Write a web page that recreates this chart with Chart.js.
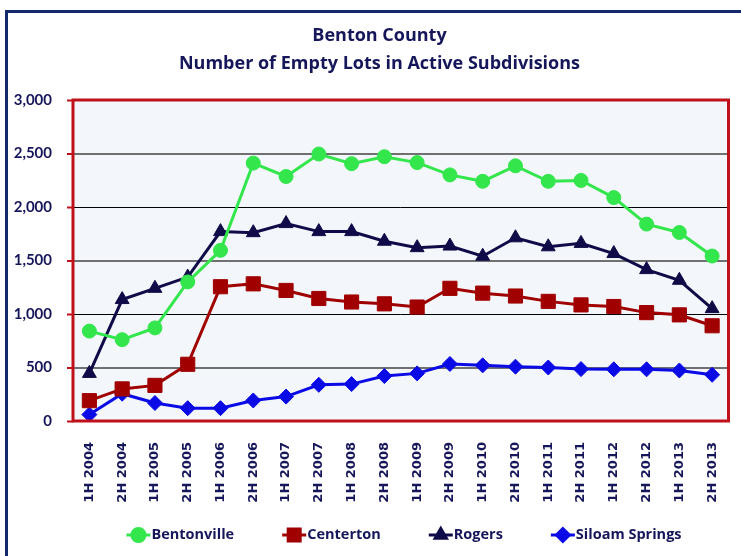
<!DOCTYPE html>
<html lang="en">
<head>
    <meta charset="UTF-8">
    <title>Benton County - Empty Lots</title>
    <script src="https://cdn.jsdelivr.net/npm/chart.js"></script>
    <style>
        html, body { margin: 0; padding: 0; background: #ffffff; }
        #wrap { position: relative; width: 741px; height: 556px; }
    </style>
</head>
<body>
<div id="wrap">
    <canvas id="lotsChart" width="741" height="556"></canvas>
</div>

<script>
// Dados
const periods = [
    '1H 2004', '2H 2004', '1H 2005', '2H 2005', '1H 2006', '2H 2006', '1H 2007', '2H 2007',
    '1H 2008', '2H 2008', '1H 2009', '2H 2009', '1H 2010', '2H 2010', '1H 2011', '2H 2011',
    '1H 2012', '2H 2012', '1H 2013', '2H 2013'
];
const bentonville = [840, 760, 870, 1300, 1595, 2410, 2285, 2495, 2405, 2470, 2415, 2300, 2240, 2385, 2240, 2248, 2088, 1840, 1762, 1542];
const centerton = [190, 300, 333, 530, 1255, 1282, 1220, 1145, 1112, 1095, 1065, 1240, 1195, 1168, 1118, 1085, 1070, 1013, 992, 890];
const rogers = [445, 1135, 1240, 1345, 1770, 1760, 1845, 1770, 1770, 1680, 1620, 1635, 1540, 1712, 1628, 1660, 1565, 1415, 1315, 1050];
const siloamSprings = [60, 255, 168, 120, 120, 192, 228, 338, 345, 420, 445, 533, 520, 508, 500, 485, 483, 483, 472, 432];
const yTicks = [0, 500, 1000, 1500, 2000, 2500, 3000];

const navyText = '#16165a';
const font = 'Lato, "Open Sans", sans-serif';
const wideFont = '"Open Sans", Lato, sans-serif';

const series = [
    { label: 'Bentonville', data: bentonville, color: '#33e64c', style: 'circle', radius: 7 },
    { label: 'Centerton', data: centerton, color: '#a00000', style: 'rect', radius: 10 },
    { label: 'Rogers', data: rogers, color: '#0e0b48', style: 'triangle', radius: 8 },
    { label: 'Siloam Springs', data: siloamSprings, color: '#0a0ae6', style: 'rectRot', radius: 7.5 }
];

// fundo da área do gráfico + moldura vermelha
const plotFrame = {
    id: 'plotFrame',
    afterLayout(chart) {
        // título um pouco à direita, como no original
        if (chart.titleBlock) {
            chart.titleBlock.left += 14;
            chart.titleBlock.right += 14;
        }
    },
    beforeDraw(chart) {
        const { ctx, chartArea: a } = chart;
        ctx.save();
        ctx.fillStyle = '#ffffff';
        ctx.fillRect(0, 0, chart.width, chart.height);
        // moldura externa azul-marinho
        ctx.strokeStyle = '#12296b';
        ctx.lineWidth = 3;
        ctx.beginPath();
        ctx.moveTo(6.5, chart.height + 5);
        ctx.lineTo(6.5, 11.5);
        ctx.lineTo(chart.width + 5, 11.5);
        ctx.stroke();
        ctx.fillStyle = '#f3f7fb';
        ctx.fillRect(a.left, a.top, a.right - a.left, a.bottom - a.top);
        ctx.restore();
    },
    afterDatasetsDraw(chart) {
        const { ctx, chartArea: a } = chart;
        ctx.save();
        ctx.strokeStyle = '#c0101a';
        ctx.lineWidth = 3;
        ctx.strokeRect(a.left, a.top, a.right - a.left, a.bottom - a.top);
        ctx.restore();
    }
};

// legenda com linha + marcador
const lineLegend = {
    id: 'lineLegend',
    afterDraw(chart) {
        const { ctx } = chart;
        ctx.save();
        ctx.font = 'bold 14.5px ' + wideFont;
        ctx.textBaseline = 'middle';
        const iconW = 24, gapText = 1, gapItem = 48, y = 535;
        const widths = series.map(s => iconW + gapText + ctx.measureText(s.label).width);
        const total = widths.reduce((a, b) => a + b, 0) + gapItem * (series.length - 1);
        let x = 404 - total / 2;
        series.forEach((s, i) => {
            ctx.strokeStyle = s.color;
            ctx.lineWidth = 3;
            ctx.beginPath();
            ctx.moveTo(x, y);
            ctx.lineTo(x + iconW, y);
            ctx.stroke();
            ctx.fillStyle = s.color;
            Chart.helpers.drawPoint(ctx, {
                pointStyle: s.style, radius: s.style === 'rect' ? 8.5 : 6.5, borderWidth: 1, rotation: 0
            }, x + iconW / 2, y);
            ctx.fill();
            ctx.fillStyle = navyText;
            ctx.textAlign = 'left';
            ctx.fillText(s.label, x + iconW + gapText, y);
            x += widths[i] + gapItem;
        });
        ctx.restore();
    }
};

const ctx = document.getElementById('lotsChart').getContext('2d');
new Chart(ctx, {
    type: 'line',
    data: {
        labels: periods,
        datasets: series.map(s => ({
            label: s.label,
            data: s.data,
            borderColor: s.color,
            backgroundColor: s.color,
            borderWidth: 3,
            pointStyle: s.style,
            pointRadius: s.radius,
            pointBorderWidth: 1,
            pointBorderColor: s.color,
            pointBackgroundColor: s.color,
            tension: 0
        }))
    },
    options: {
        responsive: false,
        animation: false,
        layout: { padding: { left: 0, right: 10, top: 0, bottom: 45 } },
        scales: {
            x: {
                offset: true,
                grid: { display: false },
                border: { display: false },
                ticks: {
                    color: navyText,
                    font: { family: '"DejaVu Sans", sans-serif', size: 13, weight: 'bold' },
                    minRotation: 90,
                    maxRotation: 90,
                    padding: 13,
                    autoSkip: false
                },
                afterFit(scale) { scale.height = 90; }
            },
            y: {
                min: 0,
                max: 3000,
                afterBuildTicks(scale) { scale.ticks = yTicks.map(v => ({ value: v })); },
                grid: {
                    color: c => (c.tick && c.tick.value % 1000 === 500) ? '#707070' : '#000000',
                    lineWidth: c => (c.tick && c.tick.value % 1000 === 500) ? 2 : 1,
                    drawTicks: true,
                    tickLength: 6,
                    tickColor: '#c0101a',
                    tickWidth: 2
                },
                border: { display: false },
                ticks: {
                    color: navyText,
                    font: { family: font, size: 15, weight: 'bold' },
                    padding: 15,
                    callback: v => v.toLocaleString('en-US')
                },
                afterFit(scale) { scale.width = 73; }
            }
        },
        plugins: {
            legend: { display: false },
            tooltip: { enabled: false },
            title: {
                display: true,
                text: ['Benton County', 'Number of Empty Lots in Active Subdivisions'],
                color: navyText,
                font: { family: wideFont, size: 18, weight: 'bold', lineHeight: 1.5556 },
                padding: { top: 22, bottom: 22 }
            }
        }
    },
    plugins: [plotFrame, lineLegend]
});
</script>
</body>
</html>
